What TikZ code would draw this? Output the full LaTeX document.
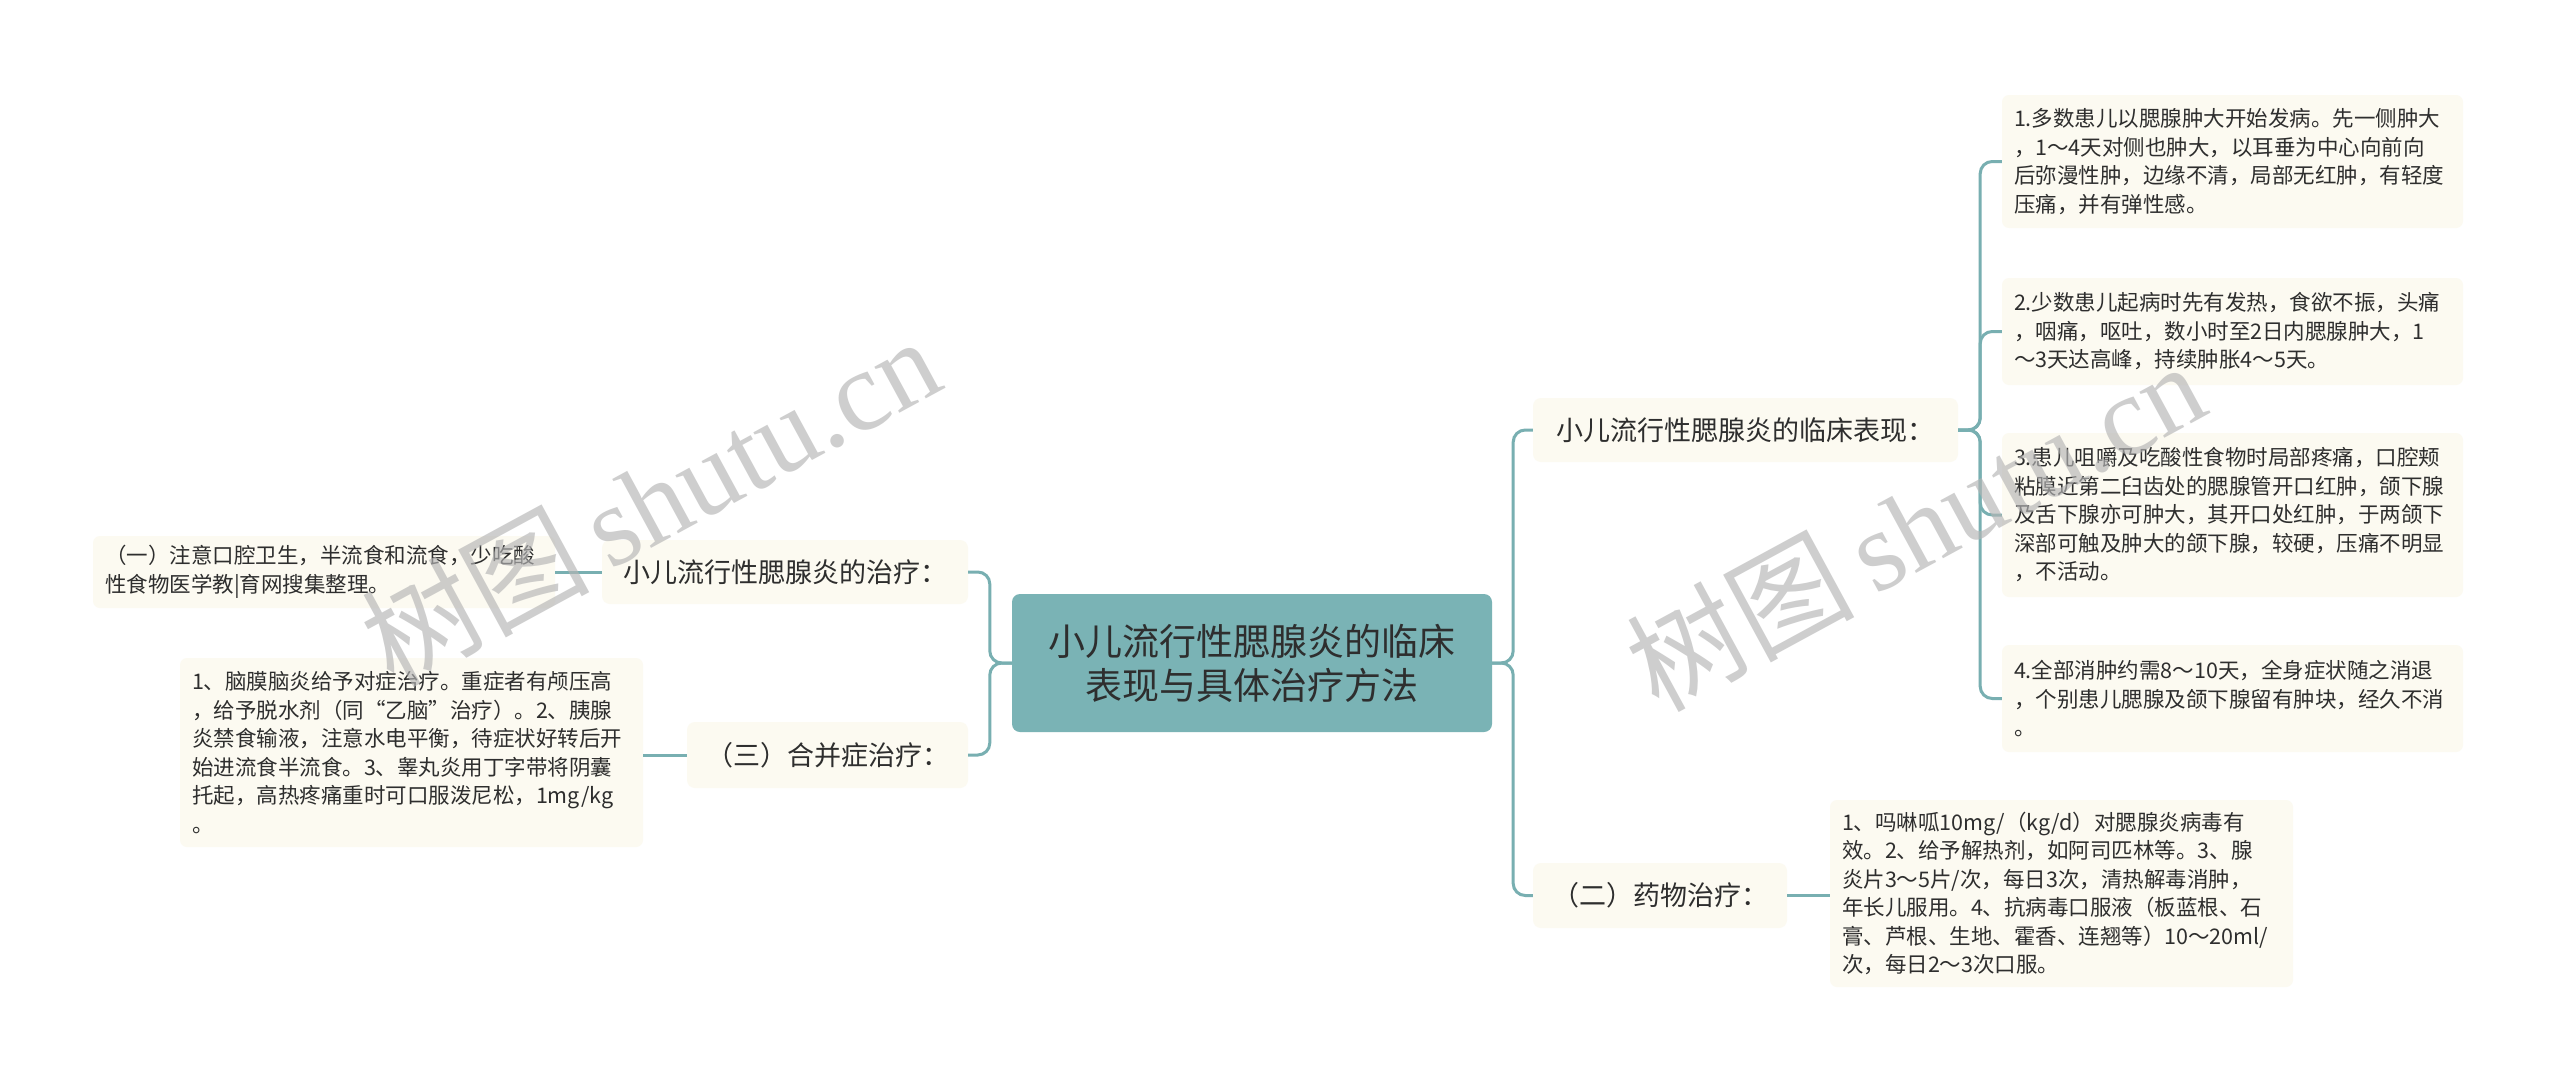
\documentclass[tikz,border=0pt]{standalone}
\usepackage{fontspec}
\setmainfont{Noto Sans CJK SC}
\newfontfamily\wmfont{Liberation Serif}
\definecolor{tealfill}{HTML}{7AB3B5}
\definecolor{tealline}{HTML}{78AFB1}
\definecolor{cream}{HTML}{FCFAF1}
\definecolor{txt}{HTML}{2E2E2E}
\definecolor{wm}{HTML}{B4B4B4}
\tikzset{
  rootbox/.style={fill=tealfill, draw=none, rounded corners=8pt, minimum width=480pt, minimum height=138pt,
    align=center, text=txt, font=\fontsize{37pt}{44pt}\selectfont, inner sep=0pt},
  midbox/.style={fill=cream, draw=none, rounded corners=8pt, minimum height=64pt,
    align=center, text=txt, font=\fontsize{27pt}{32pt}\selectfont, inner sep=0pt},
  leafbox/.style={fill=cream, draw=none, rounded corners=7pt, align=left, text=txt,
    font=\fontsize{21.5pt}{28.5pt}\selectfont, inner xsep=12pt, inner ysep=0pt},
  conn/.style={draw=tealline, line width=3pt, rounded corners=12pt},
  wmark/.style={text=wm, opacity=0.65, rotate=28.5, font=\fontsize{114pt}{120pt}\selectfont, inner sep=0pt}
}
\begin{document}
\begin{tikzpicture}[x=1pt,y=-1pt]
\fill[white] (0,0) rectangle (2560,1087);
\useasboundingbox (0,0) rectangle (2560,1087);

% root
\node[rootbox] (root) at (1252,663) {小儿流行性腮腺炎的临床\\表现与具体治疗方法};

% right level 1
\node[midbox, minimum width=425pt] (r1) at (1745.5,430) {小儿流行性腮腺炎的临床表现：};
\node[midbox, minimum width=254pt, minimum height=65pt] (r2) at (1660,895.5) {（二）药物治疗：};

% left level 1
\node[midbox, minimum width=366pt] (l1) at (785,572) {小儿流行性腮腺炎的治疗：};
\node[midbox, minimum width=281pt, minimum height=66pt] (l3) at (827.5,755) {（三）合并症治疗：};

% right leaves
\node[leafbox, text width=437pt, minimum height=133pt] (a1) at (2232.5,161.5)
 {1.多数患儿以腮腺肿大开始发病。先一侧肿大\\，1～4天对侧也肿大，以耳垂为中心向前向\\后弥漫性肿，边缘不清，局部无红肿，有轻度\\压痛，并有弹性感。};
\node[leafbox, text width=437pt, minimum height=107pt] (a2) at (2232.5,331.5)
 {2.少数患儿起病时先有发热，食欲不振，头痛\\，咽痛，呕吐，数小时至2日内腮腺肿大，1\\～3天达高峰，持续肿胀4～5天。};
\node[leafbox, text width=437pt, minimum height=164pt] (a3) at (2232.5,515)
 {3.患儿咀嚼及吃酸性食物时局部疼痛，口腔颊\\粘膜近第二臼齿处的腮腺管开口红肿，颌下腺\\及舌下腺亦可肿大，其开口处红肿，于两颌下\\深部可触及肿大的颌下腺，较硬，压痛不明显\\，不活动。};
\node[leafbox, text width=437pt, minimum height=107pt] (a4) at (2232.5,698.5)
 {4.全部消肿约需8～10天，全身症状随之消退\\，个别患儿腮腺及颌下腺留有肿块，经久不消\\。};
\node[leafbox, text width=439pt, minimum height=187pt] (b1) at (2061.5,893.5)
 {1、吗啉呱10mg/（kg/d）对腮腺炎病毒有\\效。2、给予解热剂，如阿司匹林等。3、腺\\炎片3～5片/次，每日3次，清热解毒消肿，\\年长儿服用。4、抗病毒口服液（板蓝根、石\\膏、芦根、生地、霍香、连翘等）10～20ml/\\次，每日2～3次口服。};

% left leaves
\node[leafbox, text width=438pt, minimum height=72pt] (c1) at (324,572)
 {（一）注意口腔卫生，半流食和流食，少吃酸\\性食物医学教|育网搜集整理。};
\node[leafbox, text width=439pt, minimum height=189pt] (d1) at (411.5,752.5)
 {1、脑膜脑炎给予对症治疗。重症者有颅压高\\，给予脱水剂（同“乙脑”治疗）。2、胰腺\\炎禁食输液，注意水电平衡，待症状好转后开\\始进流食半流食。3、睾丸炎用丁字带将阴囊\\托起，高热疼痛重时可口服泼尼松，1mg/kg\\。};

% connectors
\draw[conn] (root.east) -- ++(21,0) |- (r1.west);
\draw[conn] (root.east) -- ++(21,0) |- (r2.west);
\draw[conn] (r1.east) -- ++(22,0) |- (a1.west);
\draw[conn] (r1.east) -- ++(22,0) |- (a2.west);
\draw[conn] (r1.east) -- ++(22,0) |- (a3.west);
\draw[conn] (r1.east) -- ++(22,0) |- (a4.west);
\draw[conn] (r2.east) -- (r2.east -| b1.west);
\draw[conn] (root.west) -- ++(-22,0) |- (l1.east);
\draw[conn] (root.west) -- ++(-22,0) |- (l3.east);
\draw[conn] (l1.west) -- (l1.west -| c1.east);
\draw[conn] (l3.west) -- (l3.west -| d1.east);

% watermarks
\node[wmark] (wm1) at (650,500) {树图\,{\wmfont shutu.cn}};
\node[wmark] (wm2) at (1915,525) {树图\,{\wmfont shutu.cn}};
\end{tikzpicture}
\end{document}
